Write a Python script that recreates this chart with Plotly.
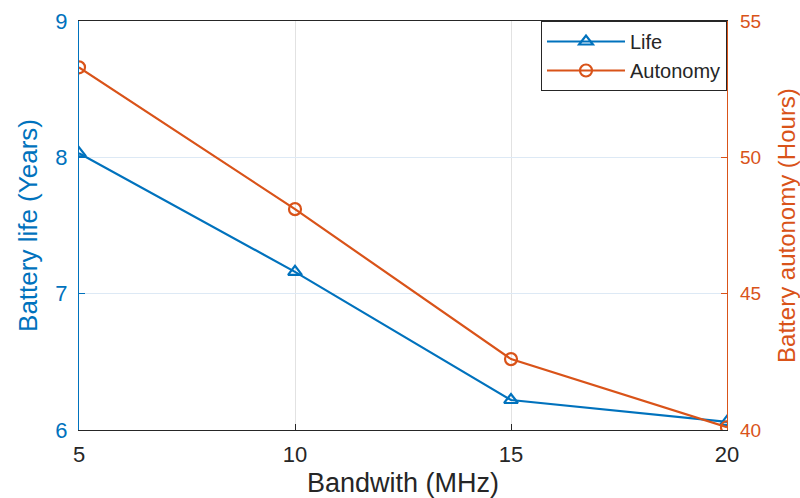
import plotly.graph_objects as go

bandwidth = [5, 10, 15, 20]
life_years = [8.03, 7.16, 6.22, 6.06]
autonomy_hours = [53.3, 48.1, 42.6, 40.1]
x_ticks = [5, 10, 15, 20]
left_ticks = [6, 7, 8, 9]
right_ticks = [40, 45, 50, 55]

BLUE = "#0072BD"
ORANGE = "#D95319"
DARK = "#262626"
FONT = "Arial, Liberation Sans, sans-serif"

fig = go.Figure()
fig.add_trace(go.Scatter(
    x=bandwidth, y=life_years, name="Life", mode="lines+markers",
    line=dict(color=BLUE, width=2.2),
    marker=dict(symbol="triangle-up-open", size=12, color=BLUE, line=dict(width=2.2, color=BLUE)),
    yaxis="y"))
fig.add_trace(go.Scatter(
    x=bandwidth, y=autonomy_hours, name="Autonomy", mode="lines+markers",
    line=dict(color=ORANGE, width=2.2),
    marker=dict(symbol="circle-open", size=12, color=ORANGE, line=dict(width=2.2, color=ORANGE)),
    yaxis="y2"))

fig.update_layout(
    width=800, height=498,
    margin=dict(l=79, r=73, t=21, b=68),
    paper_bgcolor="white", plot_bgcolor="white",
    font=dict(family=FONT, color=DARK),
    xaxis=dict(
        range=[5, 20], tickvals=x_ticks, ticks="inside", ticklen=6, tickcolor=DARK,
        showline=True, linecolor=DARK, linewidth=1.2, mirror=True,
        showgrid=True, gridcolor="#e2e2e2", gridwidth=1, zeroline=False,
        tickfont=dict(size=22, color=DARK), ticklabelstandoff=4, automargin=False,
        title=dict(text="Bandwith (MHz)", font=dict(size=27, color=DARK), standoff=8),
    ),
    yaxis=dict(
        range=[6, 9], tickvals=left_ticks, ticks="inside", ticklen=6, tickcolor=BLUE,
        showline=True, linecolor=BLUE, linewidth=1.2,
        showgrid=True, gridcolor="#dde9f5", gridwidth=1, zeroline=False,
        tickfont=dict(size=22, color=BLUE), ticklabelstandoff=6, automargin=False,
        title=dict(text="Battery life (Years)", font=dict(size=26, color=BLUE), standoff=10),
    ),
    yaxis2=dict(
        range=[40, 55], tickvals=right_ticks, ticks="inside", ticklen=6, tickcolor=ORANGE,
        overlaying="y", side="right",
        showline=True, linecolor=ORANGE, linewidth=1.2,
        showgrid=False, zeroline=False,
        tickfont=dict(size=19, color=ORANGE), ticklabelstandoff=8, automargin=False,
        title=dict(text="Battery autonomy (Hours)", font=dict(size=24, color=ORANGE), standoff=20),
    ),
    legend=dict(
        x=1, y=1, xanchor="right", yanchor="top",
        bgcolor="white", bordercolor=DARK, borderwidth=1,
        font=dict(size=20, color=DARK), tracegroupgap=0, itemwidth=78,
    ),
    showlegend=True,
)

fig.write_html("out.html")
